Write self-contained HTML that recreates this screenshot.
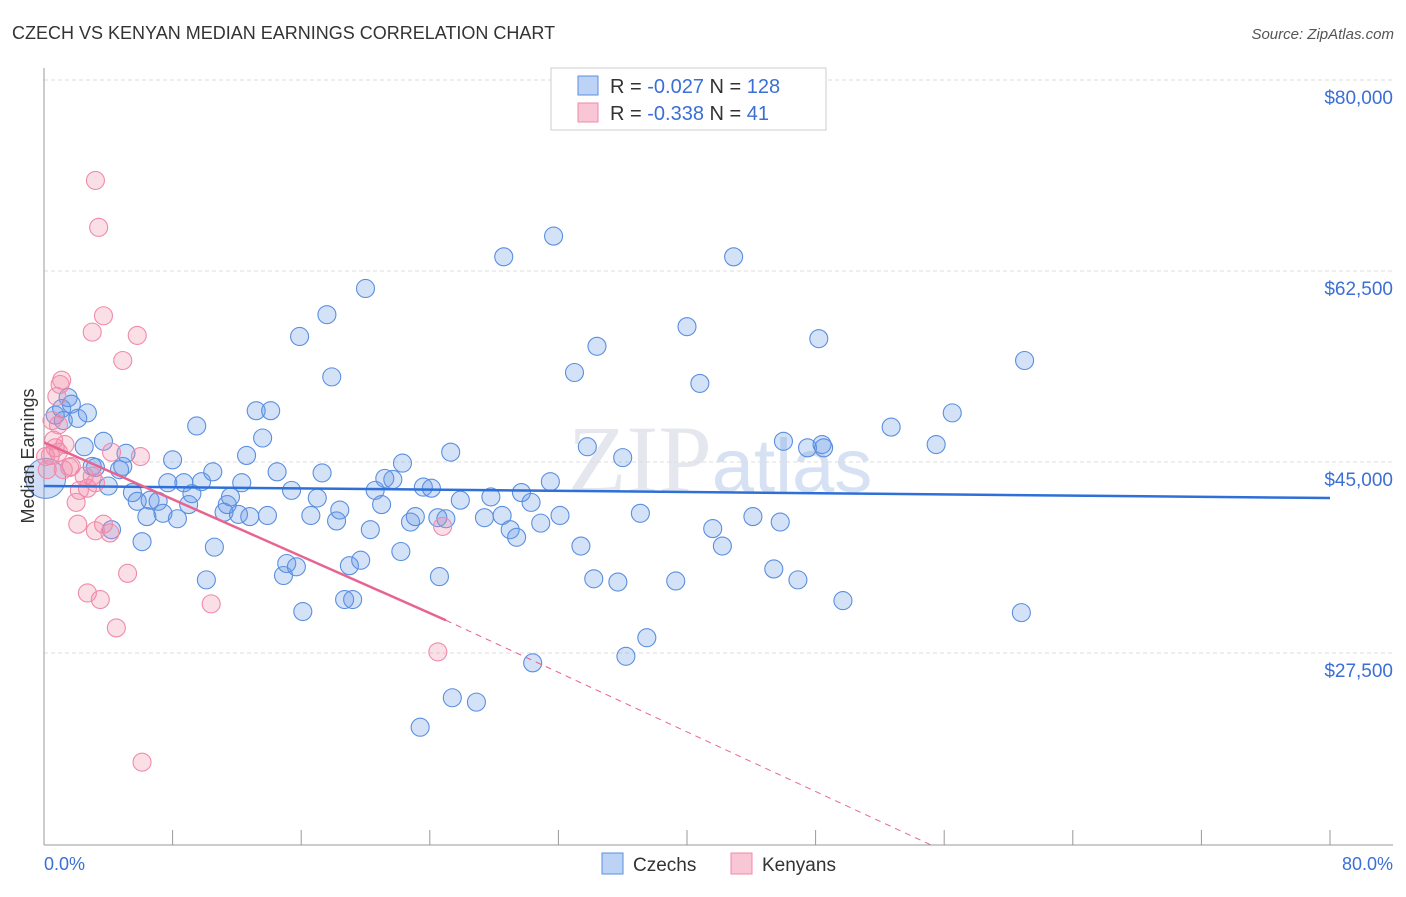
<!DOCTYPE html>
<html><head><meta charset="utf-8"><style>
body{margin:0;background:#fff;font-family:"Liberation Sans",sans-serif;}
</style></head><body>
<svg id="chart" width="1406" height="892" xmlns="http://www.w3.org/2000/svg" font-family="Liberation Sans, sans-serif">
<text x="12" y="39" font-size="18" fill="#333">CZECH VS KENYAN MEDIAN EARNINGS CORRELATION CHART</text>
<text x="1394" y="39" font-size="15" fill="#555" font-style="italic" text-anchor="end">Source: ZipAtlas.com</text>
<text x="720" y="492" font-size="96" fill="#e4e8ee" text-anchor="middle" font-family="Liberation Serif, serif">ZIP<tspan fill="#d6e2f3" font-family="Liberation Sans, sans-serif" font-size="76">atlas</tspan></text>
<g id="grid"></g>
<g id="axes"></g>
<g id="pts"></g>
<g id="trend"></g>
<text transform="translate(34,456) rotate(-90)" font-size="18" fill="#333" text-anchor="middle">Median Earnings</text>
<text x="44" y="870" font-size="18" fill="#3b6fd6">0.0%</text>
<text x="1393" y="870" font-size="18" fill="#3b6fd6" text-anchor="end">80.0%</text>
<g>
<rect x="551" y="68" width="275" height="62" fill="#fff" stroke="#ccc"/>
<rect x="578" y="76" width="20" height="19" fill="#bcd3f5" stroke="#5a8fe0"/>
<rect x="578" y="103" width="20" height="19" fill="#f8c6d5" stroke="#f08aaa"/>
<text x="610" y="93" font-size="20" fill="#333">R = <tspan fill="#3b6fd6">-0.027</tspan>   N = <tspan fill="#3b6fd6">128</tspan></text>
<text x="610" y="120" font-size="20" fill="#333">R = <tspan fill="#3b6fd6">-0.338</tspan>   N = <tspan fill="#3b6fd6">  41</tspan></text>
</g>
<g>
<rect x="602" y="853" width="21" height="21" fill="#bcd3f5" stroke="#5a8fe0"/>
<text x="633" y="871" font-size="19" fill="#333">Czechs</text>
<rect x="731" y="853" width="21" height="21" fill="#f8c6d5" stroke="#f08aaa"/>
<text x="762" y="871" font-size="19" fill="#333">Kenyans</text>
</g>
</svg>
<script>
const yTicks=[27500,45000,62500,80000];
const yTickLabels=["$27,500","$45,000","$62,500","$80,000"];
const czechX=[0.7,1.1,1.5,1.7,1.2,2.1,2.7,2.5,3.7,3.2,3.0,4.0,4.7,4.9,5.1,4.2,5.5,5.8,6.1,6.4,6.6,7.1,7.4,7.7,8.0,8.3,8.7,9.0,9.2,9.5,9.8,10.1,10.5,10.6,11.2,11.4,11.6,12.1,12.3,12.6,12.8,13.2,13.6,13.9,14.1,14.5,14.9,15.1,15.4,15.7,15.9,16.1,16.6,17.0,17.3,17.6,17.9,18.2,18.4,19.0,18.7,19.2,19.7,20.0,20.3,20.6,21.0,21.2,21.7,22.2,22.3,22.8,23.1,23.4,23.6,24.1,24.5,24.6,25.0,25.3,25.4,25.9,26.9,27.4,27.8,28.6,28.5,29.0,29.4,29.7,30.3,30.4,30.9,31.5,31.7,32.1,33.0,33.4,33.8,34.2,34.4,35.7,36.0,36.2,37.1,37.5,39.3,40.0,40.8,41.6,42.2,42.9,44.1,45.4,45.8,46.0,46.9,47.5,48.2,48.4,48.5,49.7,52.7,55.5,56.5,60.8,61.0];
const czechY=[49.3,49.9,50.9,50.3,48.8,49.0,49.5,46.4,46.9,44.5,44.6,42.8,44.3,44.6,45.8,38.8,42.2,41.4,37.7,40.0,41.5,41.4,40.3,43.1,45.2,39.8,43.1,41.1,42.1,48.3,43.2,34.2,44.1,37.2,40.4,41.1,41.8,40.2,43.1,45.6,40.0,49.7,47.2,40.1,49.7,44.1,34.6,35.7,42.4,35.4,56.5,31.3,40.1,41.7,44.0,58.5,52.8,39.6,40.6,35.5,32.4,32.4,36.0,60.9,38.8,42.4,41.1,43.5,43.4,36.8,44.9,39.5,40.0,20.7,42.7,42.6,39.9,34.5,39.8,45.9,23.4,41.5,23.0,39.9,41.8,63.8,40.1,38.8,38.1,42.2,41.3,26.6,39.4,43.2,65.7,40.1,53.2,37.3,46.4,34.3,55.6,34.0,45.4,27.2,40.3,28.9,34.1,57.4,52.2,38.9,37.3,63.8,40.0,35.2,39.5,46.9,34.2,46.3,56.3,46.6,46.3,32.3,48.2,46.6,49.5,31.2,54.3];
const kenyanX=[3.2,3.4,3.7,3.0,5.8,4.9,1.1,1.0,0.8,0.9,0.6,0.4,0.1,1.2,1.6,1.7,2.0,2.1,2.2,2.5,2.7,3.0,3.2,3.7,4.2,4.1,3.2,5.2,2.7,3.5,4.5,10.4,6.0,6.1,24.5,24.8,0.5,0.7,1.3,0.2,0.9];
const kenyanY=[70.8,66.5,58.4,56.9,56.6,54.3,52.5,52.1,51.0,48.4,47.0,45.6,45.5,44.3,44.5,44.6,41.3,39.3,42.4,43.7,42.6,43.7,43.1,39.3,45.9,38.5,38.7,34.8,33.0,32.4,29.8,32.0,45.5,17.5,27.6,39.1,48.8,46.3,46.6,44.3,45.9];
const czechTrend=[[0,42.8],[80,41.7]];
const kenyanTrendSolid=[[0,46.8],[25,30.5]];
const kenyanTrendDash=[[25,30.5],[55.2,9.9]];
const xTicks=[0,8,16,24,32,40,48,56,64,72,80];

const NS="http://www.w3.org/2000/svg";
const X=v=>44+v/80*1286;
const Y=v=>462-(v-45000)/17500*191;
const Yk=v=>Y(v*1000);
function mk(t,a,p){const e=document.createElementNS(NS,t);for(const k in a)e.setAttribute(k,a[k]);p.appendChild(e);return e;}
const grid=document.getElementById('grid'),axes=document.getElementById('axes'),pts=document.getElementById('pts'),tr=document.getElementById('trend');
yTicks.forEach((v,i)=>{
 const l=mk('line',{x1:44,x2:1393,y1:Y(v),y2:Y(v),stroke:'#ddd','stroke-dasharray':'4,3'},grid);
 
 
 const t=mk('text',{x:1393,y:Y(v)+24,'font-size':19,fill:'#3b6fd6','text-anchor':'end'},grid);
 t.textContent=yTickLabels[i];
 
 
});
const ya=mk('line',{x1:44,x2:44,y1:68,y2:845,stroke:'#999'},axes);


const xa=mk('line',{x1:44,x2:1393,y1:845,y2:845,stroke:'#999'},axes);


xTicks.forEach(v=>{const t=mk('line',{x1:X(v),x2:X(v),y1:830,y2:845,stroke:'#999'},axes);
 
 });
const big=mk('circle',{cx:X(0.1),cy:Yk(43.5),r:20,fill:'rgba(100,150,230,0.3)',stroke:'#5a8fe0','stroke-width':1},pts);


czechX.forEach((x,i)=>{const c=mk('circle',{cx:X(x),cy:Yk(czechY[i]),r:9,fill:'rgba(100,150,230,0.28)',stroke:'#5a8fe0','stroke-width':1.1},pts);
 
 });
kenyanX.forEach((x,i)=>{const c=mk('circle',{cx:X(x),cy:Yk(kenyanY[i]),r:9,fill:'rgba(240,140,170,0.28)',stroke:'#f08aaa','stroke-width':1.1},pts);
 
 });
const l1=mk('line',{x1:X(czechTrend[0][0]),y1:Yk(czechTrend[0][1]),x2:X(czechTrend[1][0]),y2:Yk(czechTrend[1][1]),stroke:'#2f6fd8','stroke-width':2.5},tr);


const l2=mk('line',{x1:X(kenyanTrendSolid[0][0]),y1:Yk(kenyanTrendSolid[0][1]),x2:X(kenyanTrendSolid[1][0]),y2:Yk(kenyanTrendSolid[1][1]),stroke:'#e8648f','stroke-width':2.5},tr);


const l3=mk('line',{x1:X(kenyanTrendDash[0][0]),y1:Yk(kenyanTrendDash[0][1]),x2:X(kenyanTrendDash[1][0]),y2:Yk(kenyanTrendDash[1][1]),stroke:'#e8648f','stroke-width':1,'stroke-dasharray':'6,5'},tr);


</script>
</body></html>
